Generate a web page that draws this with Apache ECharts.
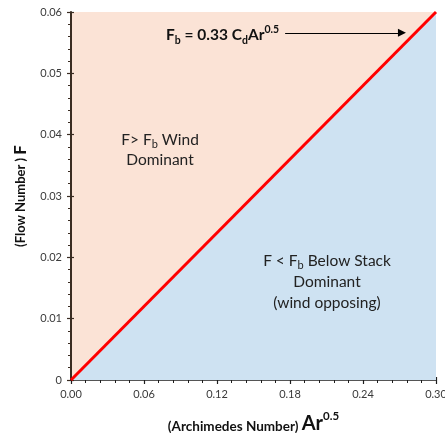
<!DOCTYPE html>
<html>
<head>
<meta charset="utf-8">
<script src="https://cdn.jsdelivr.net/npm/echarts@6/dist/echarts.min.js"></script>
<style>
  html, body { margin: 0; padding: 0; background: #fff; }
  #chart { width: 445px; height: 433px; }
</style>
</head>
<body>
<div id="chart"></div>
<script>
// boundary line F = Fb (Ar^0.5 vs F)
const arValues = [0, 0.3];
const fbValues = [0, 0.06];
// arrow of the formula label (data coords)
const arrowFrom = [0.176, 0.0566];
const arrowTo = [0.272, 0.0566];

const font = 'Lato';
const axisColor = '#3a2c22';

const chart = echarts.init(document.getElementById('chart'));

const option = {
  animation: false,
  grid: {
    left: 71, right: 9, top: 12, bottom: 53,
    outerBoundsMode: 'none', containLabel: false,
    show: true, backgroundColor: '#fbe3d6', borderWidth: 0
  },
  xAxis: [{
    type: 'value', min: 0, max: 0.3, interval: 0.06,
    axisLine: { lineStyle: { color: '#1e1e1e', width: 1.5 } },
    axisTick: { show: true, length: 4, lineStyle: { color: '#1e1e1e', width: 1.2 } },
    minorTick: { show: true, splitNumber: 5, length: 3, lineStyle: { color: '#1e1e1e' } },
    splitLine: { show: false },
    axisLabel: {
      fontFamily: font, fontSize: 11, color: '#3a3a3a', margin: 9,
      formatter: v => v.toFixed(2)
    },
    name: '{a|(Archimedes Number) }{b|Ar}{s|0.5}',
    nameLocation: 'middle', nameGap: 30,
    nameTextStyle: {
      rich: {
        a: { fontFamily: font, fontSize: 13.5, fontWeight: 'bold', color: '#111', verticalAlign: 'bottom', lineHeight: 24 },
        b: { fontFamily: font, fontSize: 20, fontWeight: 'bold', color: '#111', verticalAlign: 'bottom', lineHeight: 24 },
        s: { fontFamily: font, fontSize: 11.5, fontWeight: 'bold', color: '#111', verticalAlign: 'top', lineHeight: 24 }
      }
    }
  }, {
    type: 'value', min: 0, max: 0.3, interval: 0.06, position: 'bottom',
    axisLine: { show: false },
    axisTick: { show: true, inside: true, length: 3, lineStyle: { color: '#1e1e1e', width: 1.2 } },
    axisLabel: { show: false },
    splitLine: { show: false }
  }],
  yAxis: [{
    type: 'value', min: 0, max: 0.06, interval: 0.01,
    axisLine: { show: true, lineStyle: { color: axisColor, width: 2 } },
    axisTick: { show: true, length: 4, lineStyle: { color: axisColor, width: 1.2 } },
    minorTick: { show: true, splitNumber: 5, length: 3, lineStyle: { color: axisColor } },
    splitLine: { show: false },
    axisLabel: {
      fontFamily: font, fontSize: 11, color: '#3a3a3a', margin: 9,
      formatter: v => v === 0 ? '0' : v.toFixed(2)
    },
    name: '{a|(Flow Number ) }{f|F}',
    nameLocation: 'middle', nameGap: 39, nameRotate: 90,
    nameTextStyle: {
      rich: {
        a: { fontFamily: font, fontSize: 13, fontWeight: 'bold', color: '#111', lineHeight: 20 },
        f: { fontFamily: font, fontSize: 17, fontWeight: 'bold', color: '#111', lineHeight: 20 }
      }
    }
  }, {
    type: 'value', min: 0, max: 0.06, interval: 0.01, position: 'left',
    axisLine: { show: false },
    axisTick: { show: true, inside: true, length: 3, lineStyle: { color: axisColor, width: 1.2 } },
    axisLabel: { show: false },
    splitLine: { show: false }
  }],
  series: [{
    type: 'line',
    data: arValues.map((x, i) => [x, fbValues[i]]),
    symbol: 'none',
    lineStyle: { color: '#ff0000', width: 3 },
    areaStyle: { color: '#cee2f2', opacity: 1 },
    z: 3,
    markLine: {
      silent: true,
      symbol: ['none', 'triangle'],
      symbolSize: [8, 8],
      lineStyle: { color: '#000', width: 1, type: 'solid' },
      label: { show: false },
      data: [[{ coord: arrowFrom }, { coord: arrowTo }]]
    }
  }],
  graphic: [{
    type: 'text', left: 166, top: 24, z: 10,
    style: {
      text: '{b|F}{sb|b}{b| = 0.33 C}{sb|d}{b|Ar}{sp|0.5}',
      rich: {
        b: { fontFamily: font, fontSize: 15.5, fontWeight: 'bold', fill: '#111', lineHeight: 22 },
        sb: { fontFamily: font, fontSize: 10.5, fontWeight: 'bold', fill: '#111', verticalAlign: 'bottom', lineHeight: 22 },
        sp: { fontFamily: font, fontSize: 10.5, fontWeight: 'bold', fill: '#111', verticalAlign: 'top', lineHeight: 22 }
      }
    }
  }, {
    type: 'text', x: 160, y: 130, z: 10,
    style: {
      text: '{t|F> F}{s|b}{t| Wind}\n{t|Dominant}',
      align: 'center',
      rich: {
        t: { fontFamily: font, fontSize: 15.5, fill: '#222', lineHeight: 20, align: 'center' },
        s: { fontFamily: font, fontSize: 11, fill: '#222', lineHeight: 20, verticalAlign: 'bottom' }
      }
    }
  }, {
    type: 'text', x: 327, y: 250, z: 10,
    style: {
      text: '{t|F < F}{s|b}{t| Below Stack}\n{t|Dominant}\n{t|(wind opposing)}',
      align: 'center',
      rich: {
        t: { fontFamily: font, fontSize: 15.5, fill: '#222', lineHeight: 21, align: 'center' },
        s: { fontFamily: font, fontSize: 11, fill: '#222', lineHeight: 21, verticalAlign: 'bottom' }
      }
    }
  }]
};

chart.setOption(option);
</script>
</body>
</html>
